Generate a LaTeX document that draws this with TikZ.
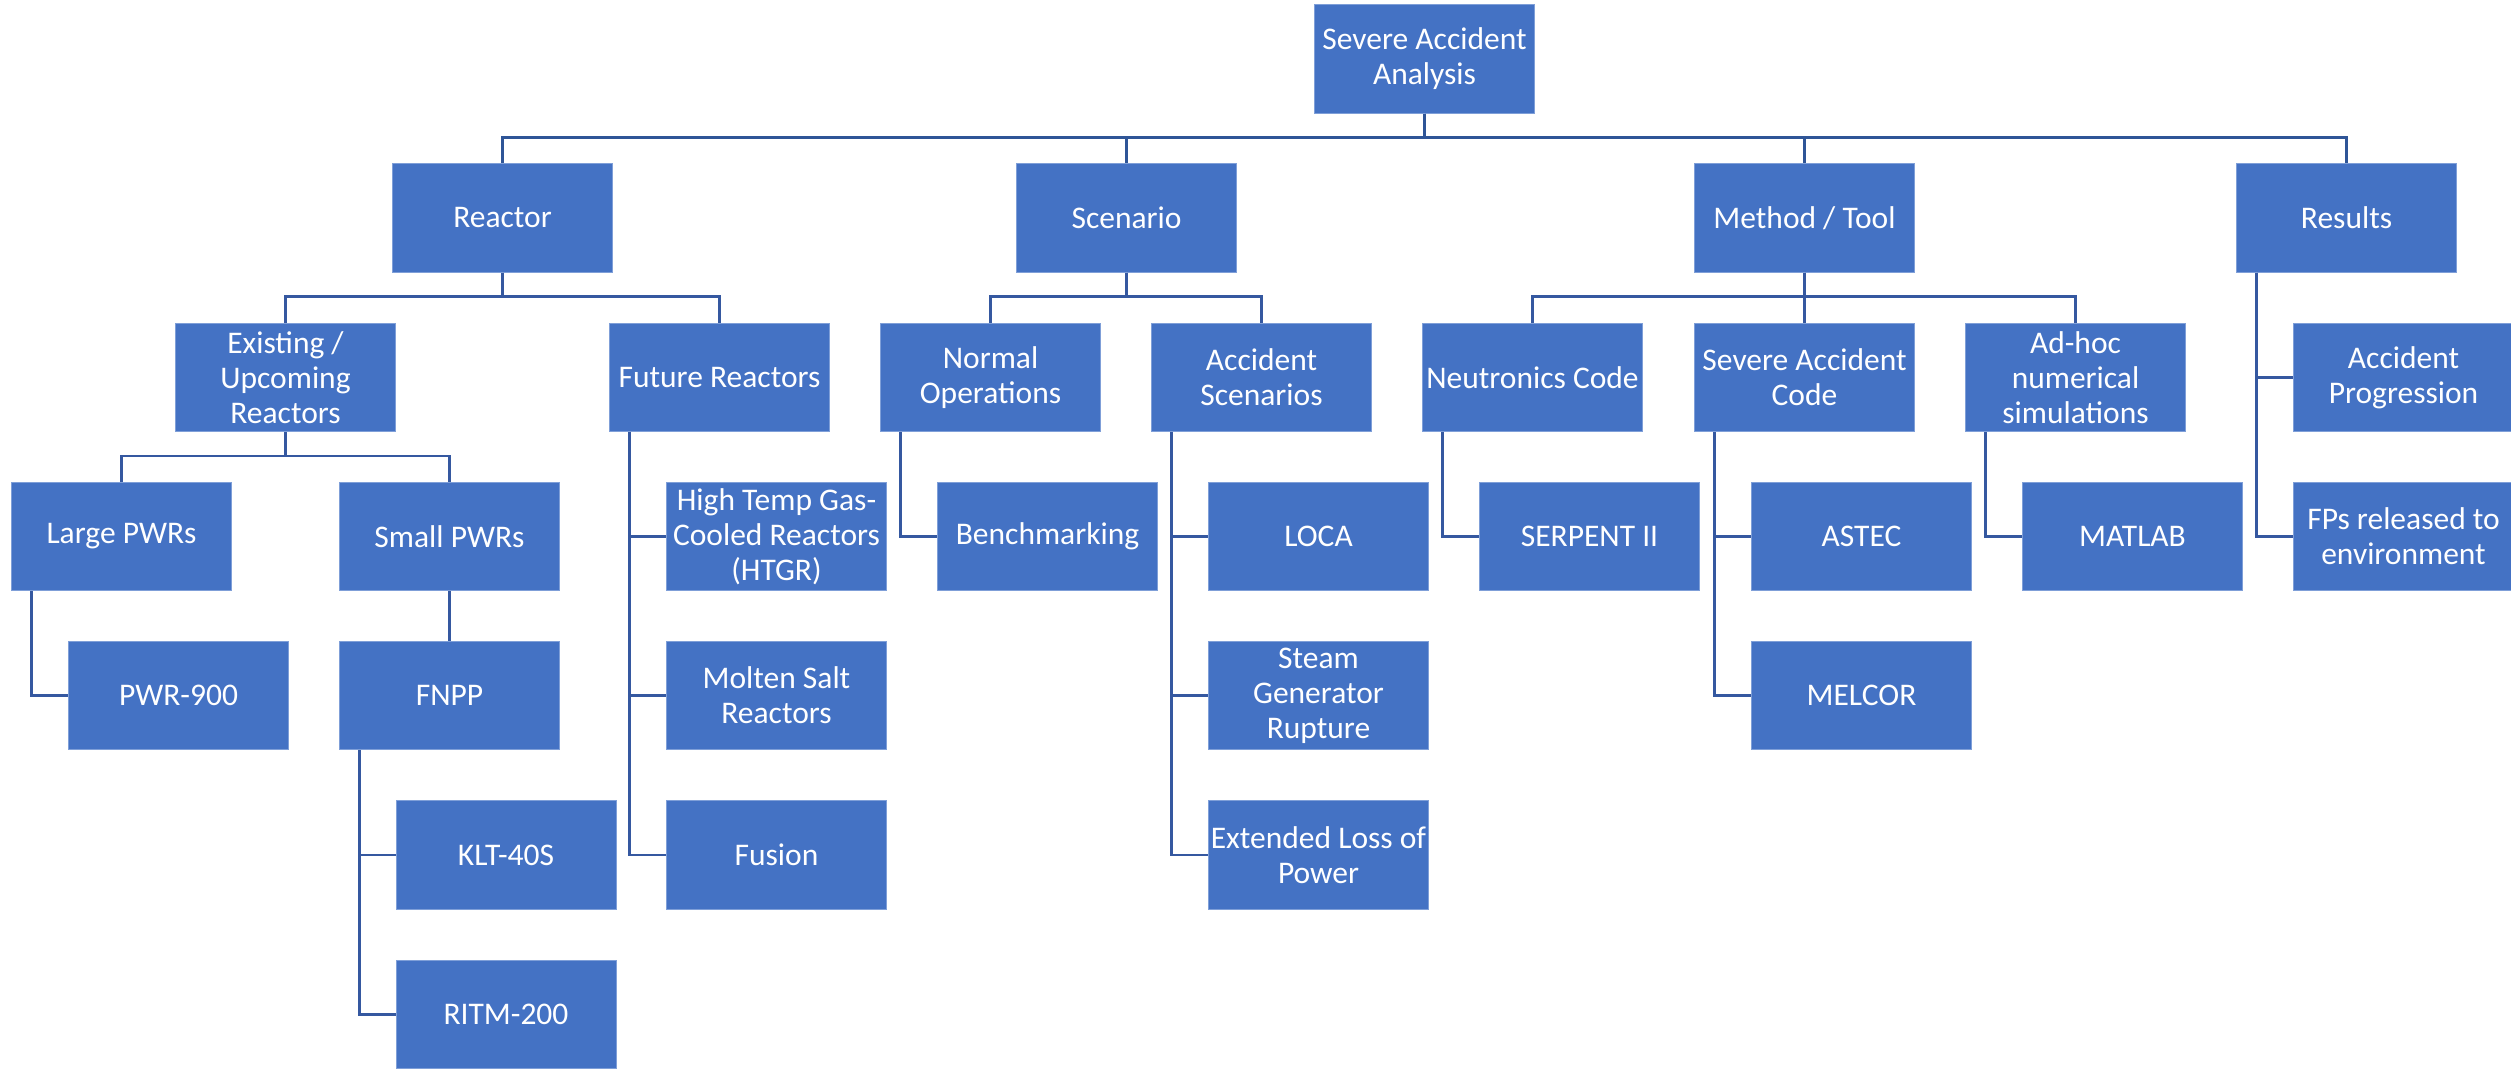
\documentclass[tikz,border=0pt]{standalone}
\usepackage{fontspec}
\setmainfont{Carlito}
\definecolor{boxblue}{HTML}{4472C4}
\definecolor{boxedge}{HTML}{7F9FD8}
\definecolor{lineblue}{HTML}{3558A0}
\definecolor{lineblue0}{HTML}{2F5597}
\tikzset{
  box/.style={fill=boxblue, draw=boxedge, line width=0.8pt, text=white,
    minimum width=220, minimum height=108.5, inner sep=0pt, align=center,
    font=\fontsize{31.5}{35}\selectfont},
  conn/.style={draw=lineblue, line width=2.6pt},
  conn0/.style={draw=lineblue0, line width=3.2pt},
}
\begin{document}
\begin{tikzpicture}[x=1pt,y=-1pt]
\useasboundingbox (0,0) rectangle (2511,1072);
% row 0
\node[box] (top) at (1424.5,59) {Severe Accident\\Analysis};
% row 1
\node[box] (reactor) at (502.5,218) {Reactor};
\node[box] (scenario) at (1126.5,218) {Scenario};
\node[box] (method) at (1804.5,218) {Method / Tool};
\node[box] (results) at (2346.5,218) {Results};
% row 2
\node[box] (exist) at (285.5,377.5) {Existing /\\Upcoming\\Reactors};
\node[box] (future) at (719.5,377.5) {Future Reactors};
\node[box] (normal) at (990.5,377.5) {Normal\\Operations};
\node[box] (accsc) at (1261.5,377.5) {Accident\\Scenarios};
\node[box] (neut) at (1532.5,377.5) {Neutronics Code};
\node[box] (sacode) at (1804.5,377.5) {Severe Accident\\Code};
\node[box] (adhoc) at (2075.5,377.5) {Ad-hoc\\numerical\\simulations};
\node[box] (accprog) at (2403.5,377.5) {Accident\\Progression};
% row 3
\node[box] (large) at (121.5,536.5) {Large PWRs};
\node[box] (small) at (449.5,536.5) {Small PWRs};
\node[box] (htgr) at (776.5,536.5) {High Temp Gas-\\Cooled Reactors\\(HTGR)};
\node[box] (bench) at (1047.5,536.5) {Benchmarking};
\node[box] (loca) at (1318.5,536.5) {LOCA};
\node[box] (serpent) at (1589.5,536.5) {SERPENT II};
\node[box] (astec) at (1861.5,536.5) {ASTEC};
\node[box] (matlab) at (2132.5,536.5) {MATLAB};
\node[box] (fps) at (2403.5,536.5) {FPs released to\\environment};
% row 4
\node[box] (pwr) at (178.5,695.5) {PWR-900};
\node[box] (fnpp) at (449.5,695.5) {FNPP};
\node[box] (molten) at (776.5,695.5) {Molten Salt\\Reactors};
\node[box] (steam) at (1318.5,695.5) {Steam\\Generator\\Rupture};
\node[box] (melcor) at (1861.5,695.5) {MELCOR};
% row 5
\node[box] (klt) at (506,855) {KLT-40S};
\node[box] (fusion) at (776.5,855) {Fusion};
\node[box] (elop) at (1318.5,855) {Extended Loss of\\Power};
% row 6
\node[box] (ritm) at (506,1014.5) {RITM-200};

% level 0 -> 1
\foreach \c in {reactor,scenario,method,results}
  \draw[conn0] (top.south) -- ++(0,24) -| (\c.north);
% level 1 -> 2 (org chart)
\foreach \c in {exist,future}
  \draw[conn] (reactor.south) -- ++(0,24) -| (\c.north);
\foreach \c in {normal,accsc}
  \draw[conn] (scenario.south) -- ++(0,24) -| (\c.north);
\foreach \c in {neut,sacode,adhoc}
  \draw[conn] (method.south) -- ++(0,24) -| (\c.north);
\foreach \c in {large,small}
  \draw[conn] (exist.south) -- ++(0,24) -| (\c.north);
% hanging connectors
\foreach \c in {accprog,fps}
  \draw[conn] ([xshift=20.5pt]results.south west) |- (\c.west);
\foreach \c in {htgr,molten,fusion}
  \draw[conn] ([xshift=20.5pt]future.south west) |- (\c.west);
\draw[conn] ([xshift=20.5pt]normal.south west) |- (bench.west);
\foreach \c in {loca,steam,elop}
  \draw[conn] ([xshift=20.5pt]accsc.south west) |- (\c.west);
\draw[conn] ([xshift=20.5pt]neut.south west) |- (serpent.west);
\foreach \c in {astec,melcor}
  \draw[conn] ([xshift=20.5pt]sacode.south west) |- (\c.west);
\draw[conn] ([xshift=20.5pt]adhoc.south west) |- (matlab.west);
\draw[conn] ([xshift=20.5pt]large.south west) |- (pwr.west);
\draw[conn] (small.south) -- (fnpp.north);
\foreach \c in {klt,ritm}
  \draw[conn] ([xshift=20.5pt]fnpp.south west) |- (\c.west);
\end{tikzpicture}
\end{document}
